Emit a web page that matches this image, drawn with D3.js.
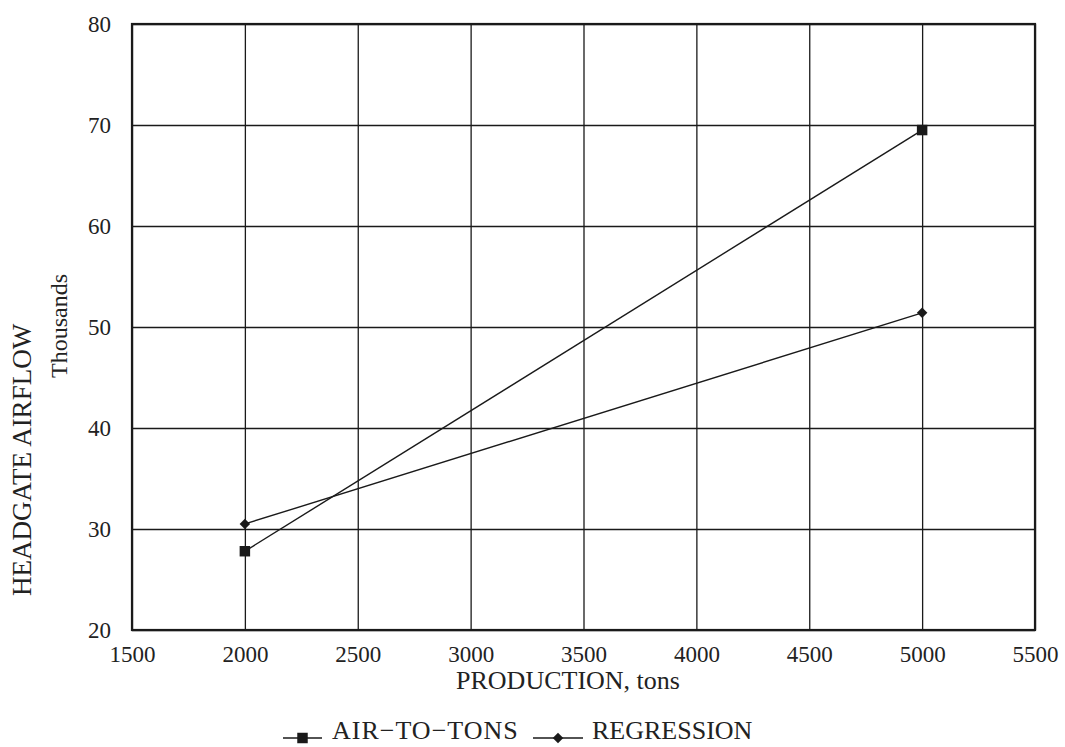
<!DOCTYPE html>
<html>
<head>
<meta charset="utf-8">
<script src="https://cdn.jsdelivr.net/npm/d3@7"></script>
<style>
  html, body { margin: 0; padding: 0; background: #fff; }
  svg { display: block; }
  text { font-family: "Liberation Serif", "Times New Roman", serif; fill: #222; }
</style>
</head>
<body>
<svg id="chart" width="1065" height="747"></svg>
<script>
// Production levels (tons) and headgate airflow estimates (thousands)
const production = [2000, 5000];
const airToTons = [27.8, 69.5];
const regression = [30.5, 51.4];

const xTicks = [1500, 2000, 2500, 3000, 3500, 4000, 4500, 5000, 5500];
const yTicks = [20, 30, 40, 50, 60, 70, 80];

const seriesNames = ["AIR\u2212TO\u2212TONS", "REGRESSION"];

const svg = d3.select("#chart");
const plotL = 132, plotR = 1035, plotT = 24, plotB = 630;

const x = d3.scaleLinear().domain([1500, 5500]).range([plotL, plotR]);
const y = d3.scaleLinear().domain([20, 80]).range([plotB, plotT]);

const ink = "#1a1a1a";

// Grid + tick labels
const xAxis = svg.append("g")
  .attr("transform", `translate(0,${plotB})`)
  .call(d3.axisBottom(x).tickValues(xTicks).tickFormat(d3.format("d"))
    .tickSizeInner(-(plotB - plotT)).tickSizeOuter(0).tickPadding(16));
const yAxis = svg.append("g")
  .attr("transform", `translate(${plotL},0)`)
  .call(d3.axisLeft(y).tickValues(yTicks).tickFormat(d3.format("d"))
    .tickSizeInner(-(plotR - plotL)).tickSizeOuter(0).tickPadding(21));

[xAxis, yAxis].forEach(a => {
  a.select(".domain").remove();
  a.selectAll(".tick line").attr("stroke", ink).attr("stroke-width", 1.3);
  a.selectAll(".tick text").style("font-size", "23px").attr("fill", "#222");
});

// Plot frame
svg.append("rect")
  .attr("x", plotL).attr("y", plotT)
  .attr("width", plotR - plotL).attr("height", plotB - plotT)
  .attr("fill", "none").attr("stroke", ink).attr("stroke-width", 2.2);

// Axis titles
svg.append("text")
  .attr("x", 568).attr("y", 689)
  .attr("text-anchor", "middle")
  .style("font-size", "26px")
  .text("PRODUCTION, tons");

svg.append("text")
  .attr("transform", "translate(31,460) rotate(-90)")
  .attr("text-anchor", "middle")
  .style("font-size", "27px")
  .text("HEADGATE AIRFLOW");

svg.append("text")
  .attr("transform", "translate(67,326) rotate(-90)")
  .attr("text-anchor", "middle")
  .style("font-size", "24px")
  .text("Thousands");

// Series lines and markers: filled squares and filled diamonds (squares turned 45°)
const line = d3.line().x(d => x(d[0])).y(d => y(d[1]));
const airPts = production.map((p, i) => [p, airToTons[i]]);
const regPts = production.map((p, i) => [p, regression[i]]);

const series = [
  { pts: airPts, sym: d3.symbol().type(d3.symbolSquare).size(110), rot: 0 },
  { pts: regPts, sym: d3.symbol().type(d3.symbolSquare).size(55), rot: 45 }
];

series.forEach(s => {
  svg.append("path").attr("d", line(s.pts))
    .attr("fill", "none").attr("stroke", ink).attr("stroke-width", 1.4);
  svg.selectAll(null).data(s.pts).enter().append("path")
    .attr("d", s.sym)
    .attr("transform", d => `translate(${x(d[0])},${y(d[1])}) rotate(${s.rot})`)
    .attr("fill", ink);
});

// Legend
const legend = [
  { name: seriesNames[0], s: series[0], x0: 283, x1: 322, tx: 332, ls: 1 },
  { name: seriesNames[1], s: series[1], x0: 533, x1: 583, tx: 592, ls: 0 }
];
const ly = 738;
legend.forEach(l => {
  svg.append("line").attr("x1", l.x0).attr("x2", l.x1)
    .attr("y1", ly).attr("y2", ly).attr("stroke", ink).attr("stroke-width", 1.4);
  svg.append("path").attr("d", l.s.sym)
    .attr("transform", `translate(${(l.x0 + l.x1) / 2},${ly}) rotate(${l.s.rot})`).attr("fill", ink);
  svg.append("text").attr("x", l.tx).attr("y", ly + 1)
    .style("font-size", "26px").style("letter-spacing", l.ls + "px").text(l.name);
});
</script>
</body>
</html>
